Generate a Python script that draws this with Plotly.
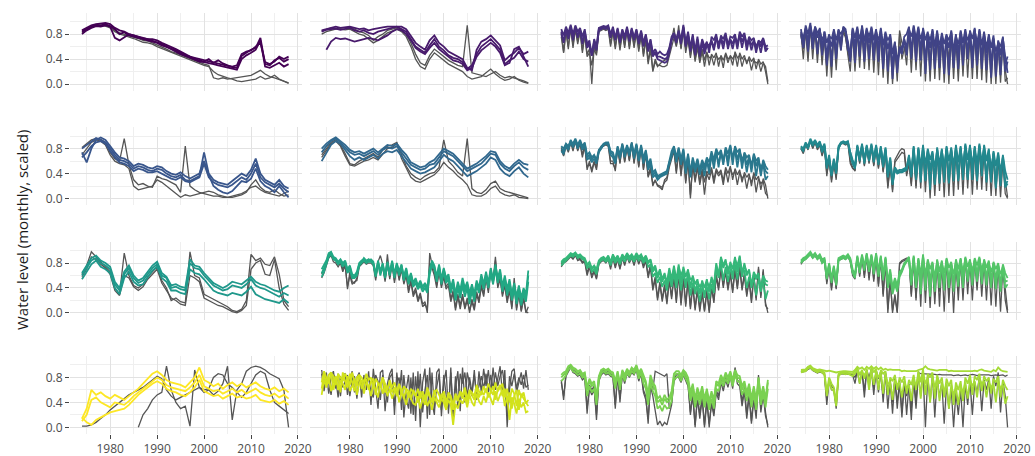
import plotly.graph_objects as go

# ---------------------------------------------------------------------------
# Time axes
# ---------------------------------------------------------------------------
YEARS = list(range(1974, 2019))                       # annual sampling
HALF_YEARS = [1974 + 0.5 * i for i in range(89)]      # semi-annual sampling

# Water levels are stored in hundredths of the scaled range (0-100).
# Each well group has three highlighted wells and two grey reference wells.

# ---- Group 1 (annual) ------------------------------------------------------
P01_A = [84, 88, 92, 95, 94, 96, 93, 88, 80, 83, 78, 76, 74, 72, 70, 68, 66, 62, 60, 57, 54, 50, 46, 44, 40,
         38, 36, 40, 34, 38, 33, 30, 27, 26, 45, 50, 55, 58, 74, 32, 30, 38, 42, 36, 40]
P01_B = [80, 86, 90, 93, 92, 94, 92, 74, 70, 75, 80, 78, 75, 73, 72, 70, 67, 64, 60, 55, 52, 48, 45, 42, 38,
         36, 35, 34, 32, 30, 28, 26, 24, 23, 40, 46, 50, 55, 70, 28, 26, 30, 34, 28, 32]
P01_C = [86, 90, 94, 96, 97, 98, 96, 90, 86, 84, 80, 78, 77, 74, 72, 72, 70, 66, 63, 60, 56, 52, 48, 44, 42,
         40, 38, 36, 35, 33, 31, 29, 28, 30, 48, 52, 54, 60, 66, 35, 32, 36, 44, 40, 44]
P01_G1 = [82, 87, 91, 94, 95, 95, 92, 86, 82, 80, 77, 75, 73, 70, 69, 66, 63, 60, 56, 52, 50, 47, 44, 41, 37,
          34, 32, 30, 10, 8, 10, 8, 9, 10, 11, 12, 14, 18, 22, 16, 12, 10, 7, 5, 2]
P01_G2 = [83, 88, 92, 93, 94, 93, 90, 84, 80, 78, 76, 73, 70, 67, 66, 64, 60, 57, 53, 50, 48, 45, 42, 38, 35,
          32, 30, 28, 20, 15, 12, 10, 8, 5, 4, 5, 6, 8, 12, 8, 10, 14, 8, 4, 1]

# ---- Group 2 (annual) ------------------------------------------------------
P02_A = [86, 88, 90, 92, 90, 91, 92, 90, 88, 89, 86, 88, 90, 91, 92, 92, 93, 92, 88, 78, 66, 60, 55, 70, 78,
         66, 60, 52, 48, 44, 40, 26, 22, 55, 68, 72, 78, 70, 62, 38, 45, 50, 58, 48, 52]
P02_B = [84, 87, 88, 89, 87, 88, 90, 86, 84, 86, 82, 80, 84, 86, 88, 90, 92, 88, 84, 72, 60, 55, 50, 62, 72,
         60, 54, 46, 42, 40, 35, 24, 30, 48, 60, 66, 72, 64, 55, 32, 38, 42, 52, 40, 36]
P02_C = [None, 55, 68, 74, 72, 73, 70, 68, 70, 72, 74, 72, 70, 74, 78, 84, 88, 86, 80, 70, 58, 52, 48, 58, 66,
         56, 50, 44, 38, 36, 32, 22, 26, 44, 54, 60, 66, 60, 50, 30, 34, 56, 60, 44, 28]
P02_G1 = [85, 88, 90, 89, 90, 90, 91, 88, 84, 82, 78, 70, 76, 80, 86, 88, 90, 86, 80, 66, 48, 34, 30, 46, 56,
          50, 44, 38, 34, 30, 28, 94, 18, 16, 14, 12, 16, 20, 14, 10, 12, 10, 8, 5, 2]
P02_G2 = [80, 84, 86, 88, 88, 87, 88, 84, 80, 78, 72, 66, 70, 76, 82, 85, 88, 84, 76, 60, 40, 28, 24, 40, 50,
          44, 38, 32, 28, 24, 20, 12, 8, 10, 12, 18, 24, 16, 10, 6, 8, 12, 6, 3, 1]

# ---- Group 3 (semi-annual) -------------------------------------------------
P03_A = [88, 78, 92, 82, 95, 80, 94, 84, 90, 76, 88, 62, 70, 45, 72, 60, 90, 92, 93, 92,
         94, 80, 92, 74, 90, 70, 88, 76, 92, 72, 90, 74, 88, 70, 86, 66, 80, 58, 72, 50,
         56, 48, 52, 48, 46, 48, 58, 76, 82, 72, 86, 70, 95, 66, 84, 58, 80, 52, 76, 50,
         72, 60, 68, 50, 76, 70, 80, 58, 78, 72, 82, 62, 76, 74, 80, 60, 84, 76, 82, 62,
         76, 70, 74, 56, 70, 66, 74, 60, 62]
P03_B = [80, 70, 88, 76, 92, 74, 90, 78, 86, 68, 82, 58, 64, 50, 68, 56, 88, 90, 91, 90,
         90, 74, 88, 70, 86, 66, 84, 72, 88, 68, 86, 70, 84, 64, 82, 60, 76, 52, 66, 44,
         50, 40, 38, 36, 34, 36, 50, 70, 78, 66, 82, 64, 90, 60, 78, 52, 74, 46, 70, 44,
         66, 48, 62, 58, 68, 54, 74, 66, 72, 56, 76, 66, 70, 56, 74, 66, 78, 58, 76, 66,
         70, 54, 68, 62, 66, 50, 70, 58, 56]
P03_C = [84, 66, 86, 72, 90, 70, 92, 74, 88, 64, 84, 66, 60, 46, 62, 54, 86, 88, 90, 88,
         92, 76, 86, 72, 88, 68, 86, 70, 90, 70, 88, 72, 86, 68, 84, 62, 78, 54, 70, 46,
         52, 44, 44, 42, 40, 42, 54, 72, 80, 70, 84, 68, 92, 62, 80, 54, 76, 48, 72, 48,
         70, 54, 64, 62, 70, 58, 76, 56, 74, 64, 78, 56, 72, 64, 76, 56, 80, 68, 78, 54,
         72, 62, 70, 50, 68, 60, 72, 52, 58]
P03_G1 = [82, 52, 86, 56, 92, 62, 90, 68, 86, 54, 80, 48, 56, 0, 60, 50, 88, 90, 91, 90,
          90, 64, 88, 60, 86, 58, 84, 62, 88, 60, 86, 62, 84, 56, 80, 48, 74, 36, 60, 22,
          40, 30, 30, 28, 28, 30, 46, 60, 74, 60, 80, 58, 92, 56, 76, 46, 70, 40, 62, 38,
          56, 38, 52, 30, 48, 42, 50, 28, 46, 38, 48, 34, 46, 40, 48, 28, 50, 40, 46, 32,
          44, 36, 42, 24, 40, 32, 36, 20, 0]
P03_G2 = [76, 50, 84, 60, 90, 58, 88, 64, 84, 50, 78, 44, 50, 30, 56, 46, 84, 86, 88, 86,
          88, 60, 84, 56, 84, 54, 82, 58, 86, 56, 84, 58, 82, 52, 78, 44, 70, 32, 56, 20,
          36, 28, 32, 36, 38, 40, 52, 70, 90, 62, 94, 56, 86, 50, 72, 42, 66, 36, 58, 34,
          52, 28, 50, 42, 44, 30, 46, 40, 44, 26, 50, 40, 44, 30, 52, 42, 46, 28, 42, 36,
          40, 22, 38, 34, 36, 20, 34, 28, 4]

# ---- Group 4 (semi-annual) -------------------------------------------------
P04_A = [88, 62, 94, 80, 98, 56, 92, 74, 90, 46, 84, 66, 80, 28, 88, 70, 86, 54, 92, 88,
         62, 36, 90, 74, 92, 44, 94, 68, 90, 40, 92, 70, 88, 36, 90, 62, 84, 20, 80, 48,
         68, 18, 60, 54, 76, 80, 92, 50, 94, 72, 92, 38, 90, 70, 84, 22, 88, 60, 86, 26,
         82, 64, 80, 14, 86, 52, 80, 24, 86, 66, 88, 40, 86, 72, 90, 30, 88, 62, 84, 22,
         80, 58, 78, 12, 70, 46, 76, 20, 36]
P04_B = [84, 74, 90, 52, 94, 76, 90, 48, 86, 70, 80, 30, 74, 60, 84, 40, 86, 80, 88, 84,
         54, 52, 86, 34, 88, 72, 90, 36, 86, 66, 88, 38, 84, 70, 86, 24, 80, 56, 74, 8,
         64, 40, 50, 60, 70, 46, 88, 76, 90, 36, 88, 72, 86, 16, 80, 58, 84, 24, 82, 62,
         78, 16, 76, 58, 82, 26, 76, 64, 82, 30, 84, 70, 82, 26, 86, 66, 84, 24, 80, 60,
         76, 10, 72, 52, 66, 14, 72, 44, 18]
P04_C = [80, 58, 88, 70, 92, 64, 92, 82, 88, 58, 84, 42, 78, 72, 86, 48, 88, 66, 90, 84,
         68, 44, 88, 60, 90, 52, 92, 48, 88, 76, 90, 50, 86, 58, 88, 36, 82, 70, 78, 26,
         66, 30, 56, 48, 72, 58, 90, 40, 92, 60, 90, 54, 88, 34, 82, 70, 86, 38, 84, 48,
         80, 36, 78, 70, 84, 38, 78, 50, 84, 44, 86, 52, 84, 44, 88, 56, 86, 40, 82, 50,
         78, 30, 74, 34, 68, 60, 74, 32, 44]
P04_G1 = [82, 40, 88, 62, 92, 40, 88, 58, 84, 30, 78, 12, 72, 44, 80, 22, 84, 62, 86, 78,
          46, 20, 84, 50, 86, 26, 88, 56, 84, 22, 86, 40, 82, 14, 84, 44, 78, 0, 70, 24,
          60, 4, 86, 66, 60, 30, 86, 40, 88, 22, 86, 50, 84, 4, 78, 36, 82, 8, 80, 44,
          76, 2, 74, 40, 80, 8, 74, 46, 80, 12, 82, 44, 80, 8, 84, 40, 82, 6, 78, 36,
          74, 0, 70, 30, 64, 2, 70, 22, 0]
P04_G2 = [78, 56, 84, 36, 90, 58, 86, 34, 82, 50, 76, 30, 70, 10, 78, 48, 82, 54, 84, 74,
          50, 36, 82, 20, 84, 50, 86, 24, 82, 48, 84, 18, 80, 46, 82, 10, 76, 30, 68, 0,
          56, 20, 80, 40, 56, 50, 84, 18, 86, 46, 84, 12, 82, 42, 76, 4, 80, 38, 78, 6,
          74, 34, 72, 0, 78, 30, 72, 4, 78, 40, 80, 10, 78, 36, 82, 8, 80, 40, 76, 2,
          72, 28, 68, 0, 62, 34, 68, 4, 10]

# ---- Group 5 (annual) ------------------------------------------------------
P05_A = [80, 86, 92, 97, 94, 90, 80, 70, 62, 60, 56, 48, 52, 50, 46, 44, 48, 46, 40, 36, 34, 38, 30, 28, 32,
         36, 74, 40, 30, 26, 24, 22, 28, 34, 40, 36, 46, 64, 40, 30, 26, 22, 30, 20, 16]
P05_B = [66, 74, 84, 90, 92, 88, 76, 66, 58, 56, 52, 44, 48, 46, 42, 42, 44, 40, 36, 32, 30, 34, 28, 26, 30,
         34, 56, 34, 26, 22, 20, 18, 22, 28, 34, 30, 40, 56, 34, 26, 22, 18, 24, 16, 10]
P05_C = [74, 58, 80, 94, 98, 94, 84, 74, 66, 64, 60, 52, 56, 54, 50, 48, 52, 50, 44, 40, 38, 42, 36, 32, 36,
         40, 60, 38, 20, 14, 10, 8, 12, 20, 28, 26, 32, 48, 28, 20, 16, 10, 20, 10, 2]
P05_G1 = [82, 88, 94, 96, 95, 90, 74, 64, 60, 96, 54, 30, 22, 24, 20, 18, 36, 32, 30, 26, 22, 10, 84, 20, 14,
          10, 8, 6, 4, 4, 2, 2, 4, 6, 8, 12, 18, 20, 14, 10, 8, 6, 4, 8, 12]
P05_G2 = [70, 80, 90, 94, 92, 86, 70, 60, 56, 54, 48, 20, 14, 16, 18, 20, 30, 26, 20, 14, 8, 2, 6, 4, 6,
          8, 10, 12, 10, 6, 4, 2, 2, 4, 6, 10, 22, 30, 18, 12, 10, 14, 8, 4, 6]

# ---- Group 6 (annual) ------------------------------------------------------
P06_A = [74, 84, 92, 96, 90, 82, 74, 70, 72, 68, 72, 76, 70, 78, 82, 80, 84, 74, 64, 54, 50, 46, 48, 54, 56,
         66, 76, 72, 68, 60, 52, 44, 48, 52, 56, 64, 72, 70, 56, 48, 44, 52, 58, 50, 46]
P06_B = [60, 72, 86, 92, 88, 78, 68, 62, 66, 62, 66, 70, 64, 72, 76, 74, 78, 68, 58, 48, 44, 40, 42, 46, 50,
         60, 70, 64, 60, 52, 44, 36, 40, 44, 50, 56, 66, 62, 48, 40, 36, 44, 50, 40, 34]
P06_C = [80, 88, 94, 98, 92, 86, 78, 74, 76, 72, 76, 80, 74, 80, 86, 84, 88, 78, 70, 58, 54, 50, 52, 58, 62,
         72, 80, 76, 72, 64, 56, 48, 52, 56, 62, 68, 76, 74, 60, 52, 48, 56, 62, 56, 54]
P06_G1 = [70, 80, 90, 94, 86, 72, 56, 54, 60, 64, 68, 72, 66, 78, 84, 86, 90, 70, 52, 40, 34, 30, 36, 40, 42,
          50, 94, 60, 52, 42, 36, 96, 16, 10, 8, 14, 24, 28, 16, 12, 10, 8, 6, 4, 1]
P06_G2 = [66, 78, 88, 92, 84, 68, 54, 52, 56, 60, 62, 66, 62, 72, 80, 82, 88, 64, 48, 34, 28, 26, 30, 34, 38,
          46, 58, 50, 44, 36, 30, 22, 6, 4, 4, 8, 16, 20, 10, 6, 4, 6, 2, 1, 0]

# ---- Group 7 (semi-annual) -------------------------------------------------
P07_A = [84, 80, 88, 84, 92, 88, 96, 86, 94, 84, 90, 70, 74, 66, 70, 62, 78, 84, 88, 90,
         90, 76, 74, 60, 84, 70, 88, 72, 86, 74, 90, 70, 88, 66, 86, 64, 78, 54, 64, 42,
         46, 36, 38, 40, 42, 44, 60, 76, 84, 66, 82, 62, 80, 48, 72, 42, 66, 50, 64, 46,
         62, 52, 66, 58, 76, 62, 80, 70, 78, 58, 82, 72, 86, 62, 84, 74, 80, 56, 74, 66,
         70, 50, 72, 60, 66, 40, 62, 52, 46]
P07_B = [76, 72, 84, 78, 90, 82, 92, 80, 90, 78, 86, 62, 66, 58, 64, 56, 74, 80, 86, 88,
         86, 70, 66, 56, 80, 64, 84, 66, 82, 68, 86, 64, 84, 60, 82, 56, 72, 46, 56, 34,
         38, 30, 34, 36, 38, 40, 56, 70, 80, 58, 76, 54, 74, 40, 66, 34, 60, 42, 58, 38,
         56, 36, 60, 50, 70, 48, 74, 56, 72, 62, 76, 52, 80, 68, 78, 50, 74, 64, 68, 42,
         64, 56, 66, 36, 60, 50, 56, 30, 36]
P07_C = [80, 76, 86, 82, 94, 86, 94, 84, 92, 80, 88, 66, 70, 62, 68, 60, 76, 82, 86, 88,
         88, 74, 70, 58, 82, 68, 86, 70, 84, 72, 88, 68, 86, 62, 84, 60, 76, 50, 60, 38,
         42, 34, 36, 38, 40, 42, 58, 72, 82, 62, 80, 58, 78, 44, 70, 38, 62, 46, 62, 42,
         60, 46, 62, 40, 72, 58, 78, 50, 76, 54, 80, 60, 84, 54, 82, 62, 78, 48, 72, 54,
         68, 42, 70, 52, 64, 36, 60, 44, 40]
P07_G1 = [82, 70, 86, 76, 92, 80, 94, 78, 90, 70, 86, 46, 60, 42, 58, 46, 76, 84, 86, 88,
          88, 60, 60, 44, 82, 58, 88, 60, 84, 62, 90, 58, 86, 52, 84, 48, 74, 36, 50, 20,
          30, 20, 18, 14, 30, 34, 54, 66, 80, 44, 78, 40, 74, 24, 64, 0, 58, 30, 54, 26,
          48, 26, 44, 38, 50, 30, 48, 40, 46, 28, 50, 40, 52, 30, 48, 38, 46, 26, 42, 34,
          40, 20, 42, 30, 36, 14, 32, 22, 0]
P07_G2 = [78, 68, 84, 74, 90, 76, 92, 76, 88, 66, 84, 50, 56, 46, 60, 50, 78, 82, 84, 86,
          84, 56, 56, 48, 80, 56, 86, 58, 82, 60, 88, 56, 84, 50, 82, 46, 72, 34, 46, 24,
          28, 22, 20, 18, 26, 30, 50, 62, 76, 40, 74, 36, 70, 28, 60, 6, 54, 26, 50, 22,
          44, 6, 40, 30, 46, 24, 44, 36, 42, 22, 46, 26, 48, 38, 44, 22, 42, 32, 38, 16,
          36, 26, 38, 10, 32, 24, 28, 8, 4]

# ---- Group 8 (semi-annual) -------------------------------------------------
P08_A = [84, 80, 90, 84, 96, 88, 94, 86, 92, 80, 88, 54, 70, 40, 64, 46, 84, 90, 92, 90,
         92, 74, 62, 52, 86, 66, 88, 62, 86, 66, 88, 64, 86, 60, 84, 56, 82, 40, 66, 28,
         50, 44, 46, 46, 48, 50, 70, 40, 84, 36, 82, 50, 86, 30, 80, 62, 76, 24, 82, 54,
         80, 26, 84, 60, 82, 28, 86, 58, 84, 30, 88, 62, 86, 30, 84, 56, 88, 36, 86, 60,
         80, 26, 76, 52, 74, 20, 70, 44, 30]
P08_B = [80, 76, 88, 80, 92, 84, 92, 82, 88, 74, 84, 48, 64, 36, 58, 40, 80, 88, 90, 88,
         90, 68, 56, 48, 82, 60, 84, 56, 82, 60, 84, 58, 82, 54, 80, 50, 78, 34, 60, 22,
         46, 40, 42, 42, 44, 46, 64, 34, 80, 30, 78, 26, 82, 56, 76, 14, 72, 50, 78, 24,
         76, 52, 80, 24, 78, 54, 82, 28, 80, 50, 84, 30, 82, 54, 80, 28, 84, 58, 82, 26,
         76, 48, 72, 16, 70, 44, 66, 18, 24]
P08_C = [82, 78, 86, 82, 94, 86, 92, 84, 90, 78, 86, 52, 66, 38, 62, 44, 82, 88, 90, 88,
         90, 72, 58, 50, 84, 64, 86, 60, 84, 64, 86, 62, 84, 58, 82, 54, 80, 38, 64, 26,
         48, 42, 44, 44, 46, 48, 68, 38, 82, 34, 80, 40, 84, 28, 78, 44, 74, 22, 80, 40,
         78, 40, 82, 28, 80, 42, 84, 32, 82, 44, 86, 34, 84, 46, 82, 32, 86, 48, 84, 30,
         78, 40, 74, 20, 72, 36, 68, 22, 28]
P08_G1 = [82, 74, 88, 80, 94, 82, 92, 80, 88, 70, 84, 36, 66, 26, 58, 30, 82, 90, 90, 88,
          90, 60, 50, 44, 84, 58, 86, 54, 82, 58, 84, 54, 82, 50, 80, 44, 76, 20, 56, 10,
          62, 70, 76, 80, 78, 40, 60, 24, 80, 20, 80, 16, 82, 44, 76, 0, 72, 36, 78, 12,
          76, 40, 80, 4, 78, 36, 82, 14, 80, 44, 84, 16, 82, 40, 80, 14, 84, 46, 82, 12,
          74, 38, 70, 4, 68, 30, 62, 8, 0]
P08_G2 = [80, 72, 86, 78, 92, 80, 90, 78, 86, 68, 82, 40, 62, 30, 56, 34, 80, 88, 88, 86,
          88, 56, 48, 46, 82, 56, 84, 52, 80, 56, 82, 52, 80, 48, 78, 42, 74, 16, 52, 14,
          58, 64, 70, 74, 72, 36, 56, 20, 76, 16, 76, 40, 78, 10, 72, 30, 68, 4, 74, 36,
          72, 2, 76, 34, 74, 4, 78, 40, 76, 6, 80, 36, 78, 6, 76, 34, 80, 14, 78, 40,
          70, 4, 66, 30, 64, 2, 58, 26, 2]

# ---- Group 9 (annual) ------------------------------------------------------
P09_A = [60, 72, 84, 88, 80, 76, 70, 46, 36, 62, 72, 56, 48, 52, 62, 72, 78, 60, 56, 40, 42, 38, 36, 80, 72,
         70, 60, 52, 44, 40, 36, 38, 44, 42, 40, 46, 54, 44, 40, 38, 34, 30, 26, 32, 28]
P09_B = [54, 66, 78, 84, 74, 70, 64, 40, 30, 56, 66, 50, 44, 46, 58, 68, 74, 56, 50, 36, 36, 32, 30, 70, 64,
         62, 54, 44, 36, 32, 30, 28, 32, 30, 28, 34, 42, 30, 26, 22, 20, 18, 16, 22, 16]
P09_C = [64, 76, 88, 92, 84, 80, 74, 50, 40, 66, 76, 60, 52, 56, 66, 76, 82, 64, 58, 44, 46, 42, 40, 86, 76,
         74, 64, 56, 48, 44, 40, 44, 50, 48, 46, 52, 58, 50, 46, 44, 40, 36, 34, 40, 44]
P09_G1 = [62, 76, 98, 90, 82, 74, 66, 40, 30, 96, 60, 44, 40, 46, 58, 66, 74, 52, 40, 20, 24, 18, 16, 98, 60,
          56, 30, 26, 22, 18, 14, 10, 4, 2, 6, 20, 94, 84, 88, 78, 76, 90, 62, 20, 10]
P09_G2 = [58, 70, 90, 86, 78, 72, 62, 36, 28, 60, 56, 42, 36, 42, 54, 62, 70, 48, 36, 24, 20, 14, 12, 60, 56,
          50, 24, 20, 16, 12, 10, 6, 2, 0, 4, 12, 70, 80, 84, 62, 60, 86, 40, 14, 4]

# ---- Group 10 (semi-annual) ------------------------------------------------
P10_A = [70, 76, 84, 96, 98, 90, 88, 82, 86, 80, 84, 70, 76, 62, 60, 66, 80, 84, 86, 82,
         84, 86, 82, 62, 84, 66, 80, 60, 82, 64, 84, 62, 80, 66, 78, 58, 72, 52, 64, 48,
         56, 44, 52, 42, 48, 40, 70, 84, 76, 58, 78, 54, 72, 56, 62, 40, 54, 30, 50, 36,
         56, 40, 50, 32, 46, 30, 52, 40, 62, 46, 66, 48, 72, 54, 78, 56, 70, 42, 60, 38,
         54, 30, 48, 26, 44, 24, 40, 30, 68]
P10_B = [58, 66, 78, 90, 94, 86, 84, 78, 82, 74, 80, 64, 70, 56, 56, 60, 76, 80, 84, 80,
         82, 82, 78, 58, 80, 60, 76, 56, 78, 60, 80, 56, 76, 60, 74, 52, 66, 46, 58, 42,
         48, 38, 44, 34, 40, 32, 62, 76, 70, 50, 72, 46, 66, 48, 54, 32, 46, 20, 40, 24,
         44, 26, 40, 14, 36, 18, 44, 32, 54, 38, 58, 40, 64, 46, 70, 48, 62, 34, 52, 28,
         44, 20, 38, 14, 34, 12, 30, 18, 50]
P10_C = [64, 72, 80, 94, 96, 88, 86, 80, 84, 78, 82, 68, 74, 58, 58, 62, 78, 82, 88, 84,
         86, 84, 80, 60, 82, 64, 78, 58, 80, 62, 82, 60, 78, 64, 76, 56, 70, 50, 62, 46,
         52, 42, 48, 38, 44, 36, 66, 80, 74, 54, 76, 50, 70, 52, 58, 36, 50, 26, 46, 30,
         50, 34, 46, 24, 42, 26, 48, 36, 58, 42, 62, 44, 68, 50, 74, 52, 66, 38, 56, 34,
         50, 26, 44, 22, 40, 20, 36, 24, 60]
P10_G1 = [62, 70, 80, 92, 96, 86, 84, 78, 84, 70, 80, 38, 66, 50, 48, 56, 78, 82, 86, 82,
          86, 84, 80, 56, 82, 92, 78, 54, 94, 58, 82, 52, 78, 56, 74, 50, 64, 36, 54, 30,
          40, 22, 32, 14, 18, 0, 96, 78, 66, 44, 70, 44, 62, 42, 48, 22, 36, 8, 30, 12,
          30, 10, 24, 0, 22, 8, 34, 20, 46, 30, 60, 36, 72, 50, 90, 44, 58, 30, 48, 20,
          40, 10, 56, 8, 34, 4, 26, 2, 0]
P10_G2 = [56, 64, 76, 88, 92, 82, 80, 74, 80, 66, 76, 42, 60, 46, 50, 52, 74, 78, 82, 78,
          80, 80, 76, 52, 78, 70, 74, 50, 78, 54, 78, 48, 74, 52, 70, 46, 60, 32, 50, 26,
          36, 18, 28, 10, 14, 6, 80, 72, 60, 40, 66, 40, 58, 38, 44, 18, 32, 4, 26, 6,
          26, 6, 20, 4, 18, 4, 30, 16, 42, 26, 56, 32, 68, 46, 84, 40, 54, 26, 44, 16,
          36, 6, 48, 4, 30, 2, 22, 0, 10]

# ---- Group 11 (semi-annual) ------------------------------------------------
P11_A = [80, 84, 86, 90, 94, 92, 96, 90, 92, 88, 86, 76, 80, 70, 74, 66, 82, 86, 88, 84,
         90, 80, 92, 84, 90, 82, 92, 86, 94, 88, 92, 86, 94, 88, 92, 84, 90, 80, 84, 66,
         72, 56, 66, 50, 60, 44, 68, 50, 72, 48, 74, 60, 70, 40, 66, 54, 56, 30, 50, 42,
         48, 24, 50, 42, 54, 40, 76, 56, 88, 72, 82, 70, 78, 54, 86, 76, 90, 58, 76, 66,
         66, 40, 62, 54, 60, 34, 56, 46, 44]
P11_B = [76, 80, 84, 88, 92, 90, 94, 88, 90, 86, 84, 72, 76, 66, 70, 62, 80, 84, 86, 82,
         86, 76, 88, 80, 86, 78, 88, 82, 90, 84, 88, 82, 90, 84, 88, 80, 86, 74, 78, 58,
         64, 48, 58, 42, 52, 36, 60, 42, 64, 40, 66, 36, 62, 50, 58, 28, 48, 40, 42, 18,
         40, 32, 42, 22, 46, 32, 68, 60, 80, 52, 74, 50, 70, 64, 78, 54, 82, 70, 68, 40,
         58, 48, 54, 28, 52, 44, 48, 22, 36]
P11_C = [82, 86, 88, 92, 96, 94, 97, 92, 94, 90, 88, 78, 82, 72, 76, 70, 84, 88, 90, 86,
         92, 82, 94, 86, 92, 84, 94, 88, 96, 90, 94, 88, 96, 90, 94, 86, 92, 82, 86, 70,
         76, 60, 70, 54, 64, 48, 72, 54, 76, 52, 78, 48, 74, 58, 70, 40, 60, 46, 54, 30,
         52, 40, 54, 34, 58, 44, 80, 60, 90, 76, 86, 62, 82, 70, 90, 66, 92, 62, 80, 60,
         70, 44, 66, 58, 64, 38, 60, 52, 50]
P11_G1 = [78, 82, 84, 88, 92, 88, 94, 86, 88, 82, 84, 64, 76, 60, 68, 56, 80, 84, 86, 82,
          88, 74, 90, 76, 88, 72, 90, 80, 92, 82, 90, 80, 92, 82, 90, 76, 86, 60, 78, 40,
          58, 24, 50, 22, 46, 18, 56, 26, 62, 20, 66, 16, 60, 14, 56, 10, 46, 8, 40, 6,
          36, 4, 38, 0, 44, 20, 62, 40, 74, 44, 70, 40, 66, 36, 72, 42, 76, 40, 64, 30,
          56, 20, 62, 24, 74, 28, 70, 16, 0]
P11_G2 = [74, 80, 82, 86, 90, 86, 92, 84, 86, 80, 82, 60, 74, 56, 66, 54, 78, 82, 84, 80,
          86, 70, 88, 72, 86, 70, 88, 76, 90, 80, 88, 76, 90, 78, 88, 72, 84, 56, 74, 36,
          54, 20, 46, 18, 42, 14, 52, 22, 58, 16, 62, 12, 56, 10, 52, 6, 42, 4, 36, 2,
          32, 2, 34, 4, 40, 16, 58, 36, 70, 40, 66, 36, 62, 32, 68, 38, 72, 36, 60, 26,
          52, 16, 58, 20, 70, 24, 66, 12, 6]

# ---- Group 12 (semi-annual) ------------------------------------------------
P12_A = [84, 88, 90, 94, 98, 92, 96, 90, 94, 86, 88, 60, 80, 54, 76, 50, 88, 90, 92, 90,
         94, 88, 70, 62, 92, 70, 94, 74, 96, 72, 94, 70, 96, 66, 92, 60, 90, 50, 70, 40,
         56, 44, 66, 70, 80, 84, 90, 54, 92, 50, 88, 60, 94, 46, 86, 70, 82, 44, 86, 66,
         84, 46, 88, 72, 82, 44, 86, 70, 88, 56, 90, 74, 86, 56, 88, 76, 90, 58, 86, 72,
         84, 50, 82, 70, 80, 44, 78, 64, 56]
P12_B = [80, 84, 86, 90, 94, 88, 92, 86, 90, 80, 84, 54, 76, 48, 72, 44, 84, 86, 88, 86,
         90, 84, 64, 56, 88, 64, 90, 68, 92, 66, 90, 62, 92, 58, 88, 52, 86, 40, 62, 30,
         46, 34, 58, 66, 76, 82, 86, 44, 88, 40, 84, 30, 90, 62, 82, 26, 78, 58, 82, 40,
         80, 64, 84, 40, 78, 62, 82, 42, 84, 66, 86, 50, 82, 68, 84, 50, 86, 70, 82, 44,
         80, 66, 78, 38, 76, 62, 74, 40, 46]
P12_C = [82, 86, 88, 92, 96, 90, 94, 88, 92, 84, 86, 58, 78, 52, 74, 48, 86, 88, 90, 88,
         92, 86, 66, 60, 90, 68, 92, 72, 94, 70, 92, 66, 94, 62, 90, 56, 88, 46, 66, 36,
         52, 40, 62, 68, 78, 84, 88, 50, 90, 46, 86, 48, 92, 36, 84, 50, 80, 34, 84, 50,
         82, 36, 86, 52, 80, 34, 84, 54, 86, 40, 88, 56, 84, 44, 86, 60, 88, 46, 84, 56,
         82, 40, 80, 54, 78, 34, 76, 50, 52]
P12_G1 = [80, 86, 88, 92, 96, 90, 94, 88, 92, 82, 86, 50, 76, 40, 72, 38, 86, 88, 90, 88,
          92, 84, 64, 58, 90, 62, 92, 60, 94, 56, 92, 54, 94, 46, 90, 30, 86, 0, 56, 0,
          30, 2, 80, 84, 86, 88, 88, 30, 90, 24, 86, 10, 92, 40, 84, 8, 80, 36, 84, 10,
          82, 40, 86, 16, 80, 44, 84, 20, 86, 50, 88, 30, 84, 56, 86, 36, 88, 60, 84, 20,
          82, 50, 80, 10, 78, 40, 76, 20, 0]
P12_G2 = [78, 84, 86, 90, 94, 88, 92, 86, 90, 80, 84, 46, 74, 36, 70, 40, 84, 86, 88, 86,
          90, 82, 60, 54, 88, 58, 90, 56, 92, 52, 90, 50, 92, 42, 88, 26, 84, 6, 52, 4,
          26, 0, 78, 82, 84, 86, 86, 26, 88, 20, 84, 40, 90, 16, 82, 30, 78, 14, 82, 34,
          80, 2, 84, 30, 78, 0, 82, 36, 84, 20, 86, 52, 82, 20, 84, 56, 86, 26, 82, 50,
          80, 12, 78, 44, 76, 2, 74, 36, 4]

# ---- Group 13 (annual) -----------------------------------------------------
P13_A = [14, 30, 60, 52, 56, 50, 46, 52, 48, 44, 50, 56, 62, 70, 78, 86, 90, 84, 76, 72, 70, 68, 64, 72, 80,
         96, 76, 72, 66, 70, 62, 68, 72, 66, 70, 64, 68, 72, 66, 62, 60, 64, 58, 62, 56]
P13_B = [10, 20, 44, 48, 40, 36, 32, 40, 38, 36, 42, 50, 56, 62, 68, 74, 80, 76, 68, 64, 62, 60, 58, 64, 72,
         84, 66, 62, 58, 60, 54, 58, 62, 56, 60, 54, 58, 62, 56, 52, 50, 54, 48, 52, 46]
P13_C = [16, 8, 4, 12, 16, 20, 24, 26, 28, 30, 36, 44, 52, 58, 64, 70, 74, 70, 62, 58, 56, 52, 50, 56, 64,
         76, 58, 54, 50, 52, 46, 50, 54, 48, 50, 46, 48, 52, 44, 42, 40, 44, 38, 42, 36]
P13_G1 = [None, None, None, None, None, None, None, None, None, None, None, None, 0, 20, 30,
          44, 52, 56, 98, 60, 40, 30, 34, 2, 92, 64, 56, 60, 52, 58, 70, 98, 12, 60, 70,
          90, 96, 98, 96, 92, 86, 82, 78, 60, 0]
P13_G2 = [2, 2, 4, 8, 14, 20, 28, 34, 40, 46, 52, 56, 60, 64, 70, 76, 82, 78, 60, 50, 44, 48, 52, 56, 60,
          64, 60, 62, 80, 86, 84, 70, 64, 56, 48, 56, 70, 84, 90, 86, 60, 40, 34, 28, 22]

# ---- Group 14 (semi-annual) ------------------------------------------------
P14_A = [62, 86, 70, 84, 88, 60, 76, 82, 56, 88, 74, 64, 86, 72, 58, 80, 84, 62, 70, 78,
         60, 74, 78, 52, 70, 66, 80, 56, 62, 72, 56, 64, 50, 68, 60, 46, 62, 58, 44, 60,
         52, 40, 58, 48, 36, 56, 50, 42, 60, 46, 40, 54, 48, 34, 52, 44, 28, 50, 42, 56,
         46, 60, 38, 56, 52, 44, 64, 48, 58, 52, 62, 48, 56, 66, 44, 60, 68, 50, 62, 42,
         56, 30, 50, 60, 28, 54, 46, 40, 34]
P14_B = [52, 76, 64, 80, 58, 74, 82, 60, 76, 70, 60, 82, 58, 66, 78, 52, 70, 76, 54, 72,
         66, 50, 70, 60, 48, 72, 54, 68, 50, 62, 46, 58, 62, 40, 56, 50, 36, 56, 48, 38,
         36, 50, 30, 46, 52, 34, 44, 28, 48, 40, 32, 46, 40, 28, 44, 36, 4, 38, 30, 44,
         38, 48, 32, 52, 40, 34, 54, 42, 36, 50, 40, 56, 46, 36, 58, 42, 52, 60, 34, 50,
         12, 48, 38, 22, 46, 32, 40, 24, 26]
P14_C = [72, 90, 80, 70, 88, 82, 68, 86, 80, 74, 86, 76, 68, 88, 74, 66, 84, 80, 72, 86,
         76, 80, 62, 78, 72, 64, 80, 70, 60, 76, 64, 72, 58, 70, 52, 66, 60, 48, 62, 56,
         50, 62, 46, 58, 44, 64, 52, 40, 56, 60, 52, 44, 58, 40, 56, 50, 36, 54, 46, 58,
         52, 64, 46, 60, 56, 50, 68, 58, 52, 66, 56, 70, 60, 52, 72, 58, 64, 70, 48, 62,
         40, 62, 54, 34, 60, 48, 56, 38, 44]
P14_G1 = [92, 66, 88, 54, 80, 90, 62, 86, 50, 84, 86, 52, 78, 90, 56, 80, 88, 48, 84, 60,
          90, 36, 94, 62, 30, 88, 92, 26, 70, 86, 94, 20, 88, 52, 92, 16, 60, 84, 22, 88,
          10, 90, 0, 72, 94, 14, 96, 40, 20, 88, 94, 18, 70, 92, 22, 96, 12, 64, 90, 26,
          96, 40, 88, 70, 50, 92, 44, 90, 56, 94, 66, 92, 54, 96, 60, 78, 98, 52, 92, 0,
          60, 90, 94, 56, 70, 88, 62, 92, 60]
P14_G2 = [86, 58, 80, 72, 52, 84, 78, 48, 82, 64, 74, 84, 50, 76, 82, 46, 80, 70, 56, 78,
          82, 56, 48, 84, 74, 44, 84, 60, 40, 80, 86, 34, 72, 80, 28, 84, 46, 30, 80, 20,
          82, 40, 86, 24, 60, 84, 20, 88, 30, 64, 86, 28, 84, 52, 30, 88, 22, 82, 34, 86,
          70, 88, 48, 80, 56, 84, 52, 66, 82, 62, 86, 56, 84, 62, 88, 66, 82, 92, 64, 20,
          82, 66, 86, 62, 80, 68, 84, 64, 68]

# ---- Group 15 (semi-annual) ------------------------------------------------
P15_A = [80, 84, 88, 96, 100, 94, 92, 88, 90, 84, 86, 60, 74, 66, 70, 44, 80, 90, 94, 90,
         92, 88, 86, 70, 88, 66, 90, 80, 92, 86, 94, 90, 98, 84, 92, 78, 70, 46, 80, 68,
         60, 40, 44, 36, 46, 40, 42, 52, 82, 86, 86, 80, 90, 84, 76, 50, 66, 40, 60, 44,
         62, 40, 58, 36, 54, 38, 70, 66, 80, 72, 84, 76, 88, 72, 90, 80, 78, 60, 70, 50,
         66, 40, 62, 38, 76, 44, 62, 40, 72]
P15_B = [74, 78, 84, 92, 96, 90, 88, 84, 86, 80, 82, 50, 66, 56, 62, 36, 76, 86, 90, 86,
         88, 84, 82, 62, 84, 60, 86, 74, 88, 82, 90, 86, 94, 78, 88, 70, 62, 36, 72, 58,
         50, 30, 34, 26, 36, 30, 32, 42, 76, 80, 82, 74, 86, 78, 70, 42, 58, 32, 52, 36,
         54, 32, 50, 28, 46, 30, 62, 58, 74, 66, 78, 70, 82, 66, 84, 74, 72, 52, 62, 42,
         58, 32, 54, 28, 68, 36, 54, 32, 62]
P15_C = [84, 88, 90, 98, 100, 96, 94, 90, 92, 86, 88, 64, 78, 70, 74, 50, 82, 92, 94, 92,
         94, 90, 88, 74, 90, 70, 92, 84, 94, 88, 96, 92, 100, 88, 94, 82, 74, 52, 84, 72,
         66, 46, 50, 42, 52, 44, 48, 58, 86, 90, 90, 84, 92, 88, 80, 56, 70, 46, 64, 50,
         66, 46, 62, 42, 58, 44, 74, 70, 84, 76, 88, 80, 90, 76, 92, 84, 82, 66, 74, 56,
         70, 46, 66, 44, 80, 50, 66, 46, 76]
P15_G1 = [76, 44, 86, 94, 98, 92, 90, 86, 88, 80, 84, 22, 68, 60, 66, 12, 78, 88, 92, 88,
          90, 86, 84, 30, 86, 40, 88, 76, 90, 84, 92, 88, 96, 80, 90, 60, 50, 6, 74, 60,
          90, 88, 86, 84, 82, 86, 30, 40, 78, 84, 84, 78, 88, 82, 72, 20, 56, 0, 52, 20,
          50, 4, 46, 0, 42, 22, 60, 50, 76, 64, 80, 70, 86, 68, 96, 76, 72, 40, 64, 20,
          56, 10, 50, 20, 84, 30, 58, 24, 0]
P15_G2 = [72, 50, 82, 90, 96, 88, 86, 82, 84, 76, 80, 30, 62, 52, 60, 20, 74, 84, 88, 84,
          86, 82, 80, 36, 82, 46, 84, 70, 86, 80, 88, 84, 92, 74, 86, 56, 44, 14, 66, 50,
          30, 4, 10, 2, 8, 4, 20, 36, 74, 80, 80, 72, 84, 76, 66, 24, 50, 4, 46, 14,
          46, 0, 42, 6, 38, 18, 56, 44, 72, 58, 76, 64, 82, 62, 92, 70, 66, 34, 58, 14,
          50, 6, 46, 14, 80, 24, 52, 18, 4]

# ---- Group 16 (semi-annual) ------------------------------------------------
P16_A = [90, 91, 92, 96, 98, 94, 92, 90, 92, 90, 88, 56, 80, 70, 64, 40, 86, 88, 88, 87,
         88, 87, 86, 90, 96, 84, 92, 78, 94, 66, 96, 88, 94, 60, 92, 86, 90, 52, 80, 74,
         84, 60, 80, 72, 82, 54, 76, 68, 84, 60, 90, 72, 94, 52, 86, 80, 88, 46, 84, 70,
         80, 48, 78, 66, 76, 36, 72, 60, 74, 42, 80, 70, 84, 52, 82, 76, 86, 58, 82, 74,
         80, 54, 78, 72, 82, 48, 76, 66, 60]
P16_B = [88, 89, 90, 94, 96, 92, 90, 88, 90, 88, 84, 50, 74, 62, 58, 34, 82, 86, 86, 85,
         86, 84, 82, 86, 92, 70, 88, 84, 90, 60, 92, 68, 90, 80, 88, 54, 86, 70, 72, 44,
         76, 68, 72, 48, 74, 62, 68, 42, 76, 66, 84, 46, 88, 70, 80, 40, 82, 64, 78, 42,
         72, 58, 70, 30, 68, 52, 64, 36, 66, 56, 72, 46, 76, 66, 74, 48, 78, 70, 74, 48,
         72, 64, 70, 40, 74, 62, 68, 38, 50]
P16_C = [92, 92, 93, 97, 99, 95, 94, 92, 93, 92, 92, 90, 91, 90, 90, 88, 89, 90, 90, 90,
         90, 90, 89, 92, 97, 94, 96, 92, 97, 94, 98, 94, 97, 93, 96, 92, 94, 92, 93, 92,
         92, 91, 92, 90, 91, 90, 90, 89, 90, 90, 92, 93, 94, 98, 94, 93, 92, 92, 91, 92,
         92, 91, 92, 90, 91, 90, 90, 89, 90, 90, 90, 89, 90, 90, 91, 90, 92, 93, 91, 90,
         90, 89, 92, 90, 96, 92, 90, 89, 89]
P16_G1 = [89, 90, 91, 94, 96, 92, 90, 88, 90, 88, 84, 36, 76, 60, 60, 30, 84, 86, 86, 85,
          86, 85, 84, 70, 92, 84, 90, 48, 92, 80, 94, 52, 92, 78, 90, 40, 88, 60, 74, 22,
          76, 40, 70, 16, 72, 50, 66, 12, 78, 30, 86, 50, 90, 0, 82, 40, 84, 16, 80, 48,
          72, 6, 68, 30, 62, 0, 56, 20, 60, 0, 70, 36, 74, 20, 72, 56, 80, 26, 76, 60,
          78, 30, 82, 66, 88, 24, 74, 50, 0]
P16_G2 = [88, 89, 90, 93, 95, 91, 89, 87, 89, 87, 86, 44, 78, 66, 62, 36, 84, 86, 86, 86,
          86, 86, 85, 80, 90, 70, 90, 58, 92, 66, 92, 62, 90, 56, 88, 50, 86, 30, 76, 40,
          80, 30, 76, 24, 74, 20, 70, 30, 80, 40, 88, 86, 86, 86, 85, 85, 86, 85, 84, 85,
          84, 84, 85, 84, 84, 83, 84, 84, 83, 84, 84, 83, 84, 85, 84, 83, 84, 84, 85, 84,
          84, 83, 84, 84, 83, 84, 84, 82, 84]

# Panel colours (viridis) in facet order
PANEL_COLOURS = ["#440154", "#481A6C", "#472F7D", "#414487",
                 "#39568C", "#31688E", "#2A788E", "#23888E",
                 "#1F988B", "#22A884", "#35B779", "#54C568",
                 "#FDE725", "#D2E21B", "#7AD151", "#A5DB36"]

PANELS = [
    (YEARS, [P01_A, P01_B, P01_C], [P01_G1, P01_G2]),
    (YEARS, [P02_A, P02_B, P02_C], [P02_G1, P02_G2]),
    (HALF_YEARS, [P03_A, P03_B, P03_C], [P03_G1, P03_G2]),
    (HALF_YEARS, [P04_A, P04_B, P04_C], [P04_G1, P04_G2]),
    (YEARS, [P05_A, P05_B, P05_C], [P05_G1, P05_G2]),
    (YEARS, [P06_A, P06_B, P06_C], [P06_G1, P06_G2]),
    (HALF_YEARS, [P07_A, P07_B, P07_C], [P07_G1, P07_G2]),
    (HALF_YEARS, [P08_A, P08_B, P08_C], [P08_G1, P08_G2]),
    (YEARS, [P09_A, P09_B, P09_C], [P09_G1, P09_G2]),
    (HALF_YEARS, [P10_A, P10_B, P10_C], [P10_G1, P10_G2]),
    (HALF_YEARS, [P11_A, P11_B, P11_C], [P11_G1, P11_G2]),
    (HALF_YEARS, [P12_A, P12_B, P12_C], [P12_G1, P12_G2]),
    (YEARS, [P13_A, P13_B, P13_C], [P13_G1, P13_G2]),
    (HALF_YEARS, [P14_A, P14_B, P14_C], [P14_G1, P14_G2]),
    (HALF_YEARS, [P15_A, P15_B, P15_C], [P15_G1, P15_G2]),
    (HALF_YEARS, [P16_A, P16_B, P16_C], [P16_G1, P16_G2]),
]

GREY = "#555555"
FONT = "Open Sans, Noto Sans, sans-serif"
W, H = 1035, 456
COL_LEFT = [70.0, 309.7, 549.3, 789.0]
ROW_TOP = [12.7, 127.2, 241.6, 356.0]
PANEL_W, PANEL_H = 231.5, 78.0
X_RANGE = [1971.45, 2020.75]
Y_RANGE = [-0.107, 1.144]


def to_fraction(values):
    return [None if v is None else v / 100 for v in values]


fig = go.Figure()
layout = {}
for k, (t, coloured, grey) in enumerate(PANELS):
    n = k + 1
    xa, ya = ("x", "y") if n == 1 else (f"x{n}", f"y{n}")
    for s in coloured + grey:
        if len(s) != len(t):
            raise ValueError(f"panel {n}: {len(s)} values for {len(t)} dates")
    for s in grey:
        fig.add_trace(go.Scatter(x=t, y=to_fraction(s), mode="lines",
                                 line=dict(color=GREY, width=1.3),
                                 xaxis=xa, yaxis=ya, showlegend=False, hoverinfo="skip"))
    for s in coloured:
        fig.add_trace(go.Scatter(x=t, y=to_fraction(s), mode="lines",
                                 line=dict(color=PANEL_COLOURS[k], width=1.8),
                                 xaxis=xa, yaxis=ya, showlegend=False, hoverinfo="skip"))

    row, col = divmod(k, 4)
    x0 = COL_LEFT[col] / W
    x1 = (COL_LEFT[col] + PANEL_W) / W
    y1 = 1 - ROW_TOP[row] / H
    y0 = 1 - (ROW_TOP[row] + PANEL_H) / H
    bottom = row == 3
    left = col == 0
    xkey = "xaxis" if n == 1 else f"xaxis{n}"
    ykey = "yaxis" if n == 1 else f"yaxis{n}"
    layout[xkey] = dict(
        domain=[x0, x1], anchor=ya, range=X_RANGE,
        tickmode="array", tickvals=[1980, 1990, 2000, 2010, 2020],
        ticktext=["1980", "1990", "2000", "2010", "2020"],
        showticklabels=bottom, ticks="outside" if bottom else "",
        ticklen=4, tickwidth=1, tickcolor="#444444",
        tickfont=dict(family=FONT, size=12, color="#4d4d4d"),
        showgrid=True, gridcolor="#e2e2e2", gridwidth=1.1,
        minor=dict(tickvals=[1975, 1985, 1995, 2005, 2015], showgrid=True,
                   gridcolor="#efefef", gridwidth=0.8),
        zeroline=False, showline=False, automargin=False, fixedrange=True,
    )
    layout[ykey] = dict(
        domain=[y0, y1], anchor=xa, range=Y_RANGE,
        tickmode="array", tickvals=[0, 0.4, 0.8], ticktext=["0.0", "0.4", "0.8"],
        showticklabels=left, ticks="outside" if left else "",
        ticklen=4, tickwidth=1, tickcolor="#444444",
        tickfont=dict(family=FONT, size=12, color="#4d4d4d"),
        showgrid=True, gridcolor="#e2e2e2", gridwidth=1.1,
        minor=dict(tickvals=[0.2, 0.6, 1.0], showgrid=True,
                   gridcolor="#efefef", gridwidth=0.8),
        zeroline=False, showline=False, automargin=False, fixedrange=True,
    )

fig.update_layout(
    template="none",
    width=W, height=H,
    margin=dict(l=0, r=0, t=0, b=0),
    paper_bgcolor="white", plot_bgcolor="white",
    showlegend=False,
    font=dict(family=FONT, color="#222222"),
    annotations=[dict(
        text="Water level (monthly, scaled)", textangle=-90,
        x=22 / W, y=1 - 230 / H, xref="paper", yref="paper",
        xanchor="center", yanchor="middle", showarrow=False,
        font=dict(family=FONT, size=15, color="#1a1a1a"),
    )],
    **layout,
)

fig.write_html("out.html")
